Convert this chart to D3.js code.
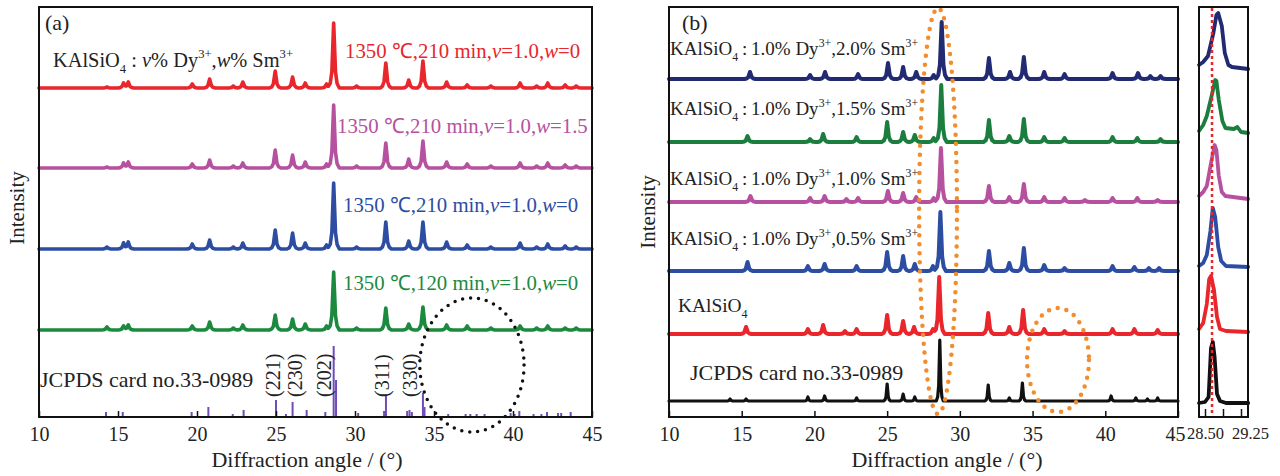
<!DOCTYPE html>
<html><head><meta charset="utf-8">
<script src="https://cdn.jsdelivr.net/npm/d3@7"></script>
<style>
body{margin:0;background:#fff}
svg text{font-family:"Liberation Serif","Times New Roman",serif;fill:#222}
</style></head><body>
<svg id="chart" width="1280" height="476"></svg>
<script>
// ---------- data ----------
const angleTicks = [10, 15, 20, 25, 30, 35, 40, 45];
const insetTicks = [28.5, 28.8, 29.1, 29.25];
const insetTickLabels = {28.5: "28.50", 29.25: "29.25"};

// panel (a): shared reflection positions (2θ) and peak heights of each pattern
const posA = [14.3, 15.35, 15.65, 19.7, 20.8, 22.3, 22.9, 24.95, 26.05, 26.85, 28.2, 28.65, 30.1, 31.95, 33.4, 34.3, 35.8, 37.1, 38.6, 40.45, 41.5, 42.2, 43.3, 44.0];
const redA     = [1, 5, 6, 4, 9, 2, 6, 17, 11, 5, 4, 65, 2, 25, 8, 27, 6, 3, 2, 5, 2, 5, 3, 2];
const magentaA = [1, 5, 6, 4, 8, 2, 5, 18, 13, 6, 4, 63, 2, 25, 9, 27, 6, 4, 2, 5, 2, 5, 3, 2];
const blueA    = [2, 6, 7, 5, 9, 2, 6, 19, 16, 6, 4, 66, 2, 27, 8, 27, 7, 4, 2, 6, 2, 5, 3, 2];
const greenA   = [3, 4, 5, 4, 8, 2, 5, 15, 11, 6, 4, 58, 2, 22, 6, 23, 5, 4, 2, 4, 2, 4, 2, 2];
const offsetsA = [329, 249, 168, 87];
const labelsA = ["1350 ℃,210 min,v=1.0,w=0", "1350 ℃,210 min,v=1.0,w=1.5", "1350 ℃,210 min,v=1.0,w=0", "1350 ℃,120 min,v=1.0,w=0"];

// JCPDS 33-0989 reference lines
const stickPos = [14.24, 15.3, 19.66, 20.72, 22.26, 22.95, 25.0, 25.63, 26.05, 26.94, 28.12, 28.65, 28.8, 30.2, 31.84, 31.96, 33.3, 33.45, 33.6, 34.3, 34.4, 35.9, 37.0, 37.3, 37.7, 38.2, 39.85, 40.1, 40.4, 41.3, 41.8, 42.15, 42.85, 43.05, 43.65];
const stickH   = [5, 5, 5, 10, 3, 7, 17, 3, 15, 7, 5, 71, 37, 4, 6, 22, 6, 7, 5, 24, 10, 3, 3, 3, 3, 3, 4, 3, 6, 3, 3, 5, 4, 4, 5];
const hklLabels = ["(221)", "(230)", "(202)", "(311)", "(330)"];
const hklPos = [24.8, 26.2, 28.05, 31.7, 33.5];

// panel (b): [2θ, height] for each pattern
const navyB = [[15.57,7],[19.7,4],[20.73,7],[23.0,5],[25.06,16],[26.1,12],[27.0,7],[28.2,4],[28.75,57],[32.0,21],[33.45,7],[34.4,22],[35.8,7],[37.2,5],[40.5,6],[42.25,6],[43.1,3],[43.8,3]];
const greenB = [[15.4,6],[19.7,3],[20.6,8],[22.9,5],[25.0,20],[26.1,10],[26.9,7],[28.2,4],[28.72,57],[32.0,22],[33.4,6],[34.4,23],[35.8,5],[37.2,4],[40.5,5],[42.2,4],[43.8,3]];
const magentaB = [[15.6,6],[19.7,4],[20.7,6],[22.2,3],[23.0,4],[25.05,11],[26.1,9],[27.0,5],[28.2,4],[28.7,54],[32.0,16],[33.4,5],[34.4,18],[35.8,5],[37.2,4],[38.6,2],[40.5,4],[42.2,4],[43.6,2]];
const blueB = [[15.4,9],[19.55,5],[20.7,7],[22.9,5],[25.0,19],[26.1,15],[26.9,7],[28.15,5],[28.66,59],[32.0,20],[33.4,8],[34.4,23],[35.8,6],[37.2,3],[40.5,5],[42.0,4],[43.0,3],[43.7,3]];
const redB = [[15.3,7],[19.55,5],[20.6,9],[22.1,3],[22.9,5],[25.0,19],[26.1,13],[26.85,7],[28.15,5],[28.58,57],[31.95,21],[33.4,7],[34.35,24],[35.8,5],[37.2,3],[40.5,5],[42.0,5],[43.6,4]];
const blackB = [[14.2,2],[15.3,2],[19.55,4],[20.7,5],[22.9,3],[25.0,17],[26.1,7],[26.9,4],[28.62,61],[31.95,16],[33.4,3],[34.3,18],[40.4,5],[42.1,3],[42.9,2],[43.6,3]];
const offsetsB = [338, 275, 215, 146, 83, 16];
const labelsB = ["2.0", "1.5", "1.0", "0.5"];

// inset: strongest reflection, [2θ, height above baseline]
const insetNavy    = [[28.4,3],[28.47,6],[28.55,12],[28.64,35],[28.69,53],[28.72,55],[28.78,42],[28.83,15],[28.89,3],[28.95,1],[29.22,-1]];
const insetGreen   = [[28.4,2],[28.47,8],[28.53,17],[28.61,37],[28.67,53],[28.69,52],[28.73,33],[28.79,12],[28.84,5],[28.98,4],[29.04,6],[29.1,1],[29.22,0]];
const insetMagenta = [[28.4,2],[28.47,6],[28.53,12],[28.6,35],[28.66,53],[28.69,48],[28.73,22],[28.78,6],[28.84,2],[29.22,-1]];
const insetBlue    = [[28.4,1],[28.47,4],[28.53,12],[28.59,36],[28.63,59],[28.67,50],[28.72,20],[28.77,6],[28.85,1],[29.22,0]];
const insetRed     = [[28.4,3],[28.47,9],[28.53,28],[28.57,53],[28.6,56],[28.65,42],[28.7,15],[28.75,3],[28.85,1],[29.22,0]];
const insetBlack   = [[28.4,0],[28.5,1],[28.56,6],[28.6,55],[28.63,61],[28.66,46],[28.7,9],[28.75,2],[28.85,0],[29.22,0]];
const insetOffsets = [349, 284, 219, 150, 85, 14];
const insetMarker = 28.617;

// ---------- styles ----------
const C = {red:"#e8262b", magenta:"#b5519f", blue:"#2c4da1", green:"#1b8a3e", navy:"#222a72",
           greenB:"#1b7d3e", black:"#111", purple:"#6e4db5", orange:"#f28c2c"};

const svg = d3.select("#chart");
const yS = d3.scaleLinear().domain([0, 410]).range([417, 7]);
const xA = d3.scaleLinear().domain([10, 45]).range([39, 592]);
const xB = d3.scaleLinear().domain([10, 45]).range([669, 1178]);
const xI = d3.scaleLinear().domain([28.4, 29.2167]).range([1199, 1248]);

// peak outline on a flat baseline (sharp tip, wider foot), summed where peaks overlap
const SHAPE = [[-1,0],[-0.6,0.07],[-0.32,0.25],[-0.13,0.7],[0,1],[0.13,0.7],[0.32,0.25],[0.6,0.07],[1,0]];
function pattern(peaks, hw, lo, hi) {
  const xs = new Set([lo, hi]);
  peaks.forEach(([p]) => SHAPE.forEach(([u]) => { const x = p + u * hw; if (x > lo && x < hi) xs.add(x); }));
  const at = x => d3.sum(peaks, ([p, h]) => {
    const u = (x - p) / hw;
    if (u <= -1 || u >= 1) return 0;
    for (let i = 1; i < SHAPE.length; i++) {
      if (u <= SHAPE[i][0]) {
        const [ua, va] = SHAPE[i - 1], [ub, vb] = SHAPE[i];
        return h * (va + (vb - va) * (u - ua) / (ub - ua));
      }
    }
    return 0;
  });
  return [...xs].sort((a, b) => a - b).map(x => [x, at(x)]);
}

function drawCurve(xs, pts, off, color, width) {
  svg.append("path")
    .attr("d", d3.line().x(d => xs(d[0])).y(d => yS(off + d[1]))(pts))
    .attr("fill", "none").attr("stroke", color).attr("stroke-width", width)
    .attr("stroke-linejoin", "round").attr("stroke-linecap", "round");
}

// text with sub/superscripts and italics
function rich(x, y, segs, color, size) {
  const t = svg.append("text").attr("x", x).attr("y", y).attr("font-size", size).style("fill", color);
  let shift = 0;
  segs.forEach(([s, kind]) => {
    const target = kind === "sub" ? 0.3 * size : kind === "sup" ? -0.42 * size : 0;
    const sp = t.append("tspan").text(s).attr("dy", target - shift);
    if (kind === "sub" || kind === "sup") sp.attr("font-size", size * 0.62);
    if (kind === "it") sp.attr("font-style", "italic");
    shift = target;
  });
  return t;
}
function condSegs(str) {
  // "1350 ℃,210 min,v=1.0,w=0" with italic v and w
  const out = [];
  str.split(/([vw])(?==)/).forEach(p => { if (p === "v" || p === "w") out.push([p, "it"]); else if (p) out.push([p]); });
  return out;
}

function frame(x0, x1) {
  svg.append("rect").attr("x", x0).attr("y", 7).attr("width", x1 - x0).attr("height", 410)
    .attr("fill", "none").attr("stroke", "#111").attr("stroke-width", 2);
}
function bottomAxis(xs, ticks, fmt, size, fs) {
  const g = svg.append("g").attr("transform", "translate(0,417)")
    .call(d3.axisBottom(xs).tickValues(ticks).tickSize(-size).tickPadding(10).tickFormat(fmt));
  g.select(".domain").remove();
  g.selectAll(".tick line").attr("stroke", "#111").attr("stroke-width", 1.5);
  g.selectAll(".tick text").attr("font-size", fs).style("font-family", '"Liberation Serif",serif').style("fill", "#222");
  return g;
}

// ---------- panel (a) ----------
[redA, magentaA, blueA, greenA].forEach((hs, i) => {
  const col = [C.red, C.magenta, C.blue, C.green][i];
  drawCurve(xA, pattern(posA.map((p, j) => [p, hs[j]]), 0.36, 10, 45), offsetsA[i], col, 3.6);
});
stickPos.forEach((p, i) => {
  svg.append("line").attr("x1", xA(p)).attr("x2", xA(p)).attr("y1", yS(0)).attr("y2", yS(stickH[i]))
    .attr("stroke", C.purple).attr("stroke-width", 2);
});
hklLabels.forEach((s, i) => {
  svg.append("text").attr("transform", `translate(${xA(hklPos[i])},${yS(20)}) rotate(-90)`)
    .attr("dominant-baseline", "central").attr("font-size", 20).text(s);
});
svg.append("ellipse").attr("cx", xA(37.4)).attr("cy", yS(52))
  .attr("rx", xA(37.4 + 3.3) - xA(37.4)).attr("ry", yS(0) - yS(67))
  .attr("fill", "none").attr("stroke", "#111").attr("stroke-width", 3.5)
  .attr("stroke-dasharray", "0 8").attr("stroke-linecap", "round");
frame(39, 592);
bottomAxis(xA, angleTicks, d3.format("d"), 6, 20);

svg.append("text").attr("x", 45).attr("y", 30).attr("font-size", 22).text("(a)");
rich(53, 67, [["KAlSiO"], ["4", "sub"], [" : "], ["v", "it"], ["% Dy"], ["3+", "sup"], [","], ["w", "it"], ["% Sm"], ["3+", "sup"]], "#222", 20.4);
const labelPosA = [[345, 58], [337, 133], [343, 212], [343, 290]];
labelsA.forEach((s, i) => rich(labelPosA[i][0], labelPosA[i][1], condSegs(s), [C.red, C.magenta, C.blue, C.green][i], 20.8));
svg.append("text").attr("x", 40).attr("y", 387).attr("font-size", 22).text("JCPDS card no.33-0989");
svg.append("text").attr("x", 307).attr("y", 467).attr("text-anchor", "middle").attr("font-size", 22).text("Diffraction angle / (°)");
svg.append("text").attr("transform", "translate(17,208) rotate(-90)").attr("text-anchor", "middle")
  .attr("dominant-baseline", "central").attr("font-size", 21).text("Intensity");

// ---------- panel (b) ----------
const seriesB = [navyB, greenB, magentaB, blueB, redB, blackB];
const colorsB = [C.navy, C.greenB, C.magenta, C.blue, C.red, C.black];
seriesB.forEach((pk, i) => {
  drawCurve(xB, pattern(pk, i === 5 ? 0.24 : 0.38, 10, 45), offsetsB[i], colorsB[i], i === 5 ? 3.2 : 4);
});
svg.append("ellipse").attr("cx", xB(28.5)).attr("cy", yS(206))
  .attr("rx", xB(28.5 + 1.3) - xB(28.5)).attr("ry", yS(0) - yS(203))
  .attr("fill", "none").attr("stroke", C.orange).attr("stroke-width", 4.5)
  .attr("stroke-dasharray", "0 9").attr("stroke-linecap", "round");
svg.append("ellipse").attr("cx", xB(36.75)).attr("cy", yS(57))
  .attr("rx", xB(36.75 + 2.13) - xB(36.75)).attr("ry", yS(0) - yS(52))
  .attr("fill", "none").attr("stroke", C.orange).attr("stroke-width", 4.5)
  .attr("stroke-dasharray", "0 9").attr("stroke-linecap", "round");
frame(669, 1178);
const gb = bottomAxis(xB, angleTicks, d3.format("d"), 6, 20);
gb.selectAll(".tick text").filter(d => d === 45).attr("dx", -3);

svg.append("text").attr("x", 682).attr("y", 30).attr("font-size", 22).text("(b)");
const labelYB = [55, 115, 185, 245];
labelsB.forEach((s, i) => rich(670, labelYB[i], [["KAlSiO"], ["4", "sub"], ["\u2009:\u20091.0% Dy"], ["3+", "sup"], [`,${s}% Sm`], ["3+", "sup"]], "#222", 19));
rich(678, 312, [["KAlSiO"], ["4", "sub"]], "#222", 19.4);
svg.append("text").attr("x", 690).attr("y", 380).attr("font-size", 22).text("JCPDS card no.33-0989");
svg.append("text").attr("x", 947).attr("y", 467).attr("text-anchor", "middle").attr("font-size", 22).text("Diffraction angle / (°)");
svg.append("text").attr("transform", "translate(648,212) rotate(-90)").attr("text-anchor", "middle")
  .attr("dominant-baseline", "central").attr("font-size", 21).text("Intensity");

// ---------- inset ----------
[insetNavy, insetGreen, insetMagenta, insetBlue, insetRed, insetBlack].forEach((pts, i) => {
  drawCurve(xI, pts, insetOffsets[i], colorsB[i], 3.8);
});
svg.append("line").attr("x1", xI(insetMarker)).attr("x2", xI(insetMarker)).attr("y1", 8).attr("y2", 416)
  .attr("stroke", C.red).attr("stroke-width", 2.5).attr("stroke-dasharray", "3 3");
frame(1199, 1248);
const gi = bottomAxis(xI, insetTicks, d => insetTickLabels[d] || "", 8, 16.5);
gi.selectAll(".tick").filter(d => d > 29.2).select("line").remove();
</script>
</body></html>
